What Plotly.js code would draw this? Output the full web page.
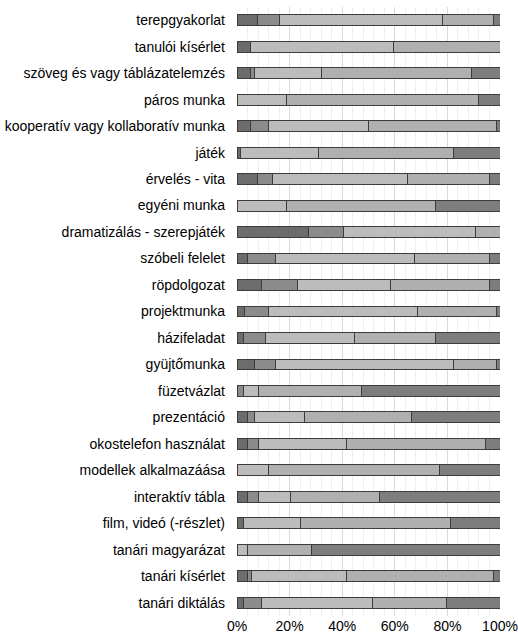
<!DOCTYPE html>
<html>
<head>
<meta charset="utf-8">
<script src="https://cdn.plot.ly/plotly-3.0.1.min.js"></script>
<style>
  html, body { margin: 0; padding: 0; background: #ffffff; }
  #chart { width: 518px; height: 638px; }
</style>
</head>
<body>
<div id="chart"></div>
<script>
// Teaching methods, share of responses (%) in five rating groups
const methods = [
  "terepgyakorlat",
  "tanulói kísérlet",
  "szöveg és vagy táblázatelemzés",
  "páros munka",
  "kooperatív vagy kollaboratív munka",
  "játék",
  "érvelés - vita",
  "egyéni munka",
  "dramatizálás - szerepjáték",
  "szóbeli felelet",
  "röpdolgozat",
  "projektmunka",
  "házifeladat",
  "gyüjtőmunka",
  "füzetvázlat",
  "prezentáció",
  "okostelefon használat",
  "modellek alkalmazáása",
  "interaktív tábla",
  "film, videó (-részlet)",
  "tanári magyarázat",
  "tanári kísérlet",
  "tanári diktálás"
];

const group1 = [7.9, 5.3, 5.3, 0, 5.3, 1.3, 7.9, 0, 27.0, 4.0, 9.4, 2.8, 2.6, 6.7, 0, 4.0, 4.0, 0, 4.0, 2.6, 0, 4.0, 2.6];
const group2 = [8.3, 0, 1.4, 0, 6.8, 0, 5.5, 0, 13.6, 10.8, 13.6, 9.3, 8.3, 8.1, 2.6, 2.7, 4.0, 0, 4.0, 0, 0, 1.4, 6.8];
const group3 = [62.1, 54.1, 25.6, 18.7, 37.9, 29.7, 51.5, 18.7, 50.0, 52.7, 35.2, 56.7, 33.7, 67.7, 5.4, 18.8, 33.8, 12.1, 12.2, 21.6, 4.0, 36.4, 42.0];
const group4 = [19.1, 40.6, 56.9, 73.1, 48.6, 51.5, 31.1, 56.9, 9.4, 28.4, 37.8, 29.9, 31.0, 16.2, 39.4, 40.7, 52.8, 65.0, 33.8, 57.0, 24.3, 55.6, 28.4];
const group5 = [2.6, 0, 10.8, 8.2, 1.4, 17.5, 4.0, 24.4, 0, 4.1, 4.0, 1.3, 24.4, 1.3, 52.6, 33.8, 5.4, 22.9, 46.0, 18.8, 71.7, 2.6, 20.2];

const groups = [group1, group2, group3, group4, group5];
const fills = ["#6c6c6c", "#8b8b8b", "#bcbcbc", "#b0b0b0", "#7d7d7d"];

const traces = groups.map((vals, i) => ({
  type: "bar",
  orientation: "h",
  y: methods,
  x: vals.map(v => (v === 0 ? null : v)),
  marker: { color: fills[i], line: { color: "#3c3c3c", width: 1 } },
  width: 0.41,
  hoverinfo: "x+y",
  showlegend: false
}));

const layout = {
  width: 518,
  height: 638,
  margin: { l: 237, r: 18, t: 7, b: 22 },
  paper_bgcolor: "#ffffff",
  plot_bgcolor: "#ffffff",
  barmode: "stack",
  font: { family: "Liberation Sans, Arial, sans-serif", size: 14, color: "#000000" },
  xaxis: {
    range: [0, 100],
    dtick: 20,
    ticksuffix: "%",
    showgrid: true,
    gridcolor: "#dadada",
    gridwidth: 1,
    minor: { dtick: 4, showgrid: true, gridcolor: "#efefef", gridwidth: 1 },
    zeroline: false,
    showline: false,
    ticks: "",
    ticklabeloverflow: "allow",
    tickfont: { size: 14 },
    fixedrange: true
  },
  yaxis: {
    autorange: "reversed",
    showgrid: false,
    zeroline: false,
    showline: false,
    ticks: "",
    ticklabelstandoff: 11,
    tickfont: { size: 14 },
    fixedrange: true
  }
};

Plotly.newPlot("chart", traces, layout, { displayModeBar: false, staticPlot: true });
</script>
</body>
</html>
